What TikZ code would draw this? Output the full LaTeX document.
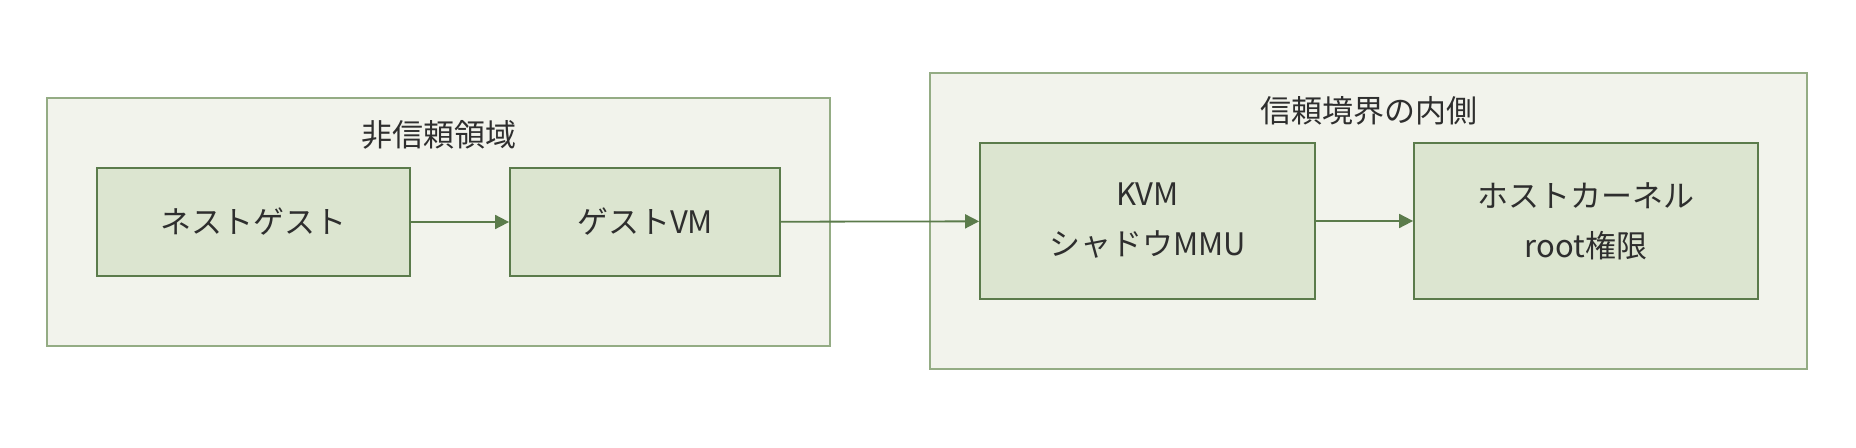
\documentclass[tikz,border=0pt]{standalone}
\usepackage{fontspec}
\setmainfont{Noto Sans CJK JP}
\usetikzlibrary{arrows.meta, positioning}

\definecolor{zoneFill}{HTML}{F2F3EC}
\definecolor{zoneLine}{HTML}{94AC84}
\definecolor{boxFill}{HTML}{DCE5D0}
\definecolor{boxLine}{HTML}{5B7B4B}
\definecolor{txt}{HTML}{2E2E2E}

\begin{document}
\begin{tikzpicture}[
  x=0.5pt, y=-0.5pt,
  font=\fontsize{15.5}{25}\selectfont, text=txt,
  zone/.style={draw=zoneLine, fill=zoneFill, line width=0.75pt,
               inner sep=0pt},
  ztitle/.style={inner sep=0pt, font=\fontsize{15.5}{20}\selectfont},
  blk/.style={draw=boxLine, fill=boxFill, line width=0.9pt, align=center,
              inner sep=2pt},
  arr/.style={-{Triangle[length=7pt, width=7pt]}, draw=boxLine,
              fill=boxLine, line width=0.9pt}]

  \useasboundingbox (0,0) rectangle (1856,448);

  % trust zones
  \node[zone, minimum width=391.5pt, minimum height=124pt] (untrusted)
    at (438.5,222) {};
  \node[zone, minimum width=438.5pt, minimum height=148pt] (trusted)
    at (1368.5,221) {};
  \node[ztitle, below=11.5pt of untrusted.north] (untrustedlbl) {非信頼領域};
  \node[ztitle, below=12pt of trusted.north] (trustedlbl) {信頼境界の内側};

  % components
  \node[blk, minimum width=156.5pt, minimum height=54pt] (nest)
    at (253.5,222) {ネストゲスト};
  \node[blk, minimum width=135pt, minimum height=54pt] (guest)
    at (645,222) {ゲストVM};
  \node[blk, minimum width=167.5pt, minimum height=78pt] (kvm)
    at (1147.5,221) {KVM\\シャドウMMU};
  \node[blk, minimum width=172pt, minimum height=78pt] (host)
    at (1586,221) {ホストカーネル\\root権限};

  \draw[arr] (nest) -- (guest);
  \draw[arr] (guest) -- (kvm);
  \draw[arr] (kvm) -- (host);
\end{tikzpicture}
\end{document}
